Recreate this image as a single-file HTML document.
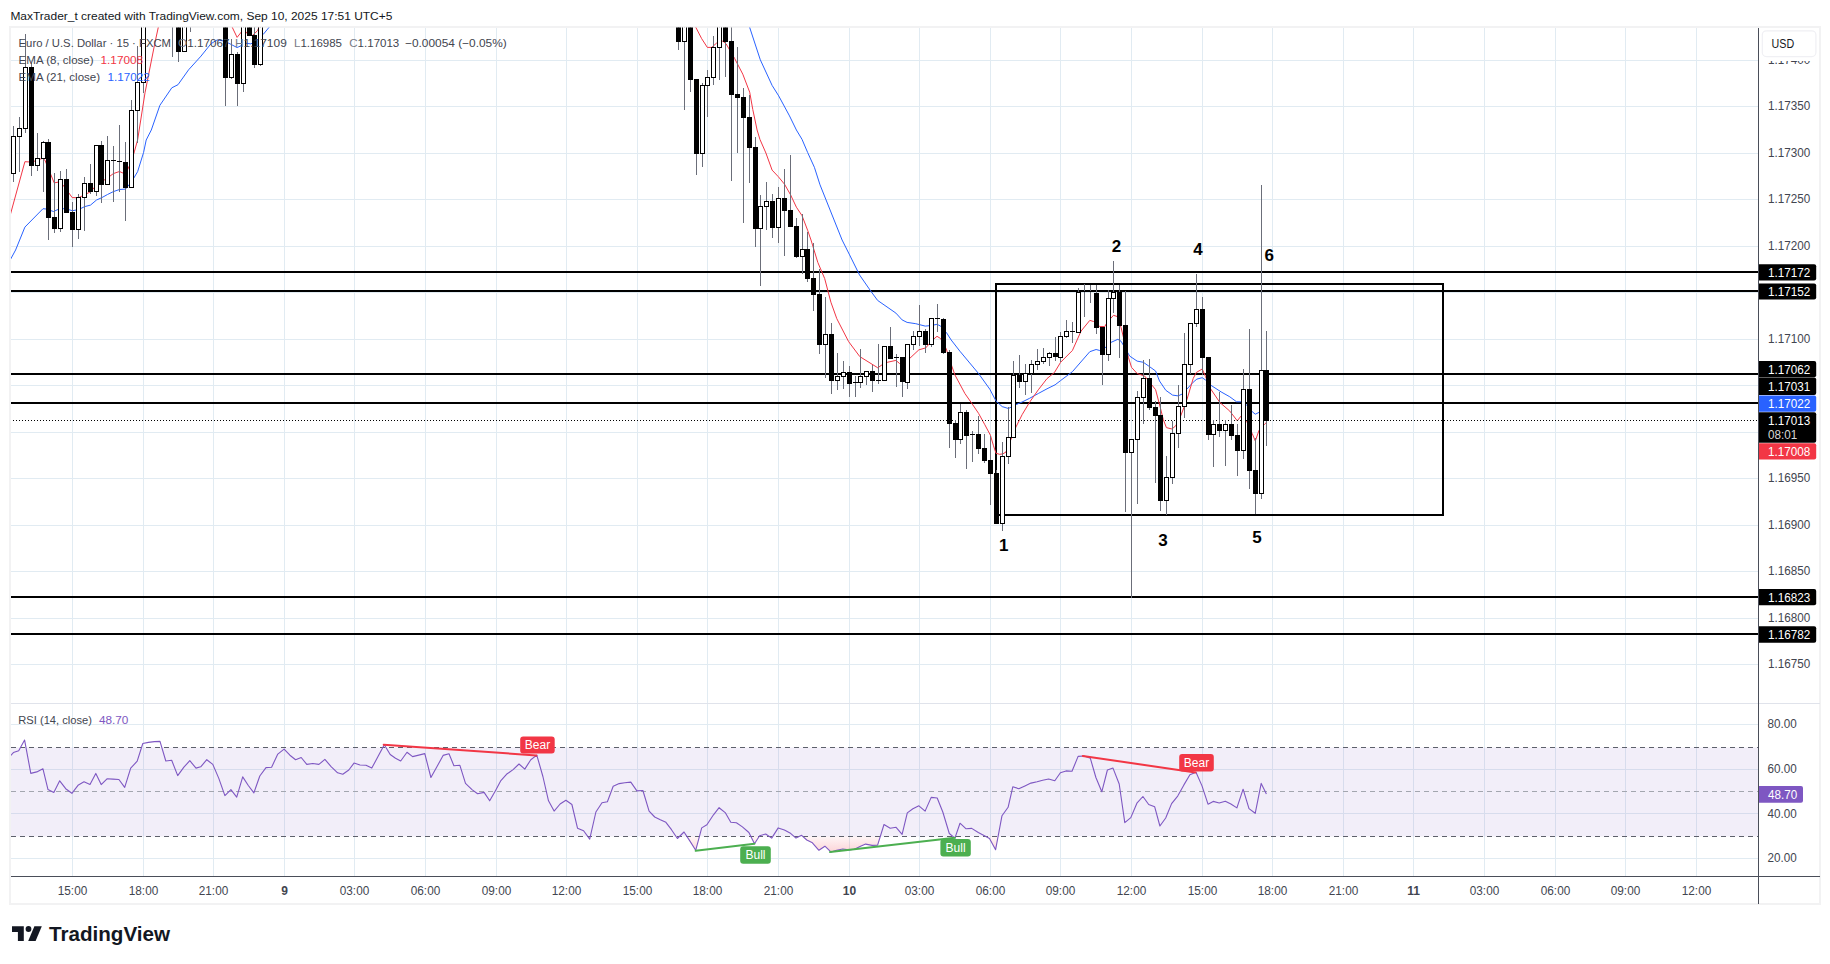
<!DOCTYPE html><html><head><meta charset="utf-8"><title>EURUSD chart</title>
<style>html,body{margin:0;padding:0;background:#fff}body{width:1830px;height:964px;overflow:hidden;position:relative;font-family:"Liberation Sans", sans-serif}svg{position:absolute;left:0;top:0;display:block}text{font-family:"Liberation Sans", sans-serif}</style></head><body>
<svg width="1830" height="964" viewBox="0 0 1830 964">
<defs><clipPath id="cm"><rect x="11" y="27.5" width="1747" height="675.5"/></clipPath><clipPath id="cr"><rect x="11" y="704" width="1747" height="172"/></clipPath><linearGradient id="og" x1="0" y1="836" x2="0" y2="858" gradientUnits="userSpaceOnUse"><stop offset="0" stop-color="#f23645" stop-opacity="0.04"/><stop offset="1" stop-color="#f23645" stop-opacity="0.28"/></linearGradient></defs>
<rect x="10" y="27" width="1810" height="877" fill="#fff" stroke="#f2f2f3" stroke-width="2"/>
<g fill="#e1ebf2" shape-rendering="crispEdges">
<rect x="72" y="28" width="1" height="675"/>
<rect x="72" y="704" width="1" height="172"/>
<rect x="143" y="28" width="1" height="675"/>
<rect x="143" y="704" width="1" height="172"/>
<rect x="213" y="28" width="1" height="675"/>
<rect x="213" y="704" width="1" height="172"/>
<rect x="284" y="28" width="1" height="675"/>
<rect x="284" y="704" width="1" height="172"/>
<rect x="354" y="28" width="1" height="675"/>
<rect x="354" y="704" width="1" height="172"/>
<rect x="425" y="28" width="1" height="675"/>
<rect x="425" y="704" width="1" height="172"/>
<rect x="496" y="28" width="1" height="675"/>
<rect x="496" y="704" width="1" height="172"/>
<rect x="566" y="28" width="1" height="675"/>
<rect x="566" y="704" width="1" height="172"/>
<rect x="637" y="28" width="1" height="675"/>
<rect x="637" y="704" width="1" height="172"/>
<rect x="707" y="28" width="1" height="675"/>
<rect x="707" y="704" width="1" height="172"/>
<rect x="778" y="28" width="1" height="675"/>
<rect x="778" y="704" width="1" height="172"/>
<rect x="849" y="28" width="1" height="675"/>
<rect x="849" y="704" width="1" height="172"/>
<rect x="919" y="28" width="1" height="675"/>
<rect x="919" y="704" width="1" height="172"/>
<rect x="990" y="28" width="1" height="675"/>
<rect x="990" y="704" width="1" height="172"/>
<rect x="1060" y="28" width="1" height="675"/>
<rect x="1060" y="704" width="1" height="172"/>
<rect x="1131" y="28" width="1" height="675"/>
<rect x="1131" y="704" width="1" height="172"/>
<rect x="1202" y="28" width="1" height="675"/>
<rect x="1202" y="704" width="1" height="172"/>
<rect x="1272" y="28" width="1" height="675"/>
<rect x="1272" y="704" width="1" height="172"/>
<rect x="1343" y="28" width="1" height="675"/>
<rect x="1343" y="704" width="1" height="172"/>
<rect x="1413" y="28" width="1" height="675"/>
<rect x="1413" y="704" width="1" height="172"/>
<rect x="1484" y="28" width="1" height="675"/>
<rect x="1484" y="704" width="1" height="172"/>
<rect x="1555" y="28" width="1" height="675"/>
<rect x="1555" y="704" width="1" height="172"/>
<rect x="1625" y="28" width="1" height="675"/>
<rect x="1625" y="704" width="1" height="172"/>
<rect x="1696" y="28" width="1" height="675"/>
<rect x="1696" y="704" width="1" height="172"/>
<rect x="11" y="60" width="1747" height="1"/>
<rect x="11" y="106" width="1747" height="1"/>
<rect x="11" y="153" width="1747" height="1"/>
<rect x="11" y="199" width="1747" height="1"/>
<rect x="11" y="246" width="1747" height="1"/>
<rect x="11" y="292" width="1747" height="1"/>
<rect x="11" y="339" width="1747" height="1"/>
<rect x="11" y="385" width="1747" height="1"/>
<rect x="11" y="432" width="1747" height="1"/>
<rect x="11" y="478" width="1747" height="1"/>
<rect x="11" y="525" width="1747" height="1"/>
<rect x="11" y="571" width="1747" height="1"/>
<rect x="11" y="618" width="1747" height="1"/>
<rect x="11" y="664" width="1747" height="1"/>
<rect x="11" y="724" width="1747" height="1"/>
<rect x="11" y="769" width="1747" height="1"/>
<rect x="11" y="813" width="1747" height="1"/>
<rect x="11" y="858" width="1747" height="1"/>
</g>
<rect x="11" y="703" width="1809" height="1" fill="#e0e3eb" shape-rendering="crispEdges"/>
<g clip-path="url(#cr)">
<rect x="11" y="747.5" width="1747" height="89" fill="#7e57c2" fill-opacity="0.1"/>
<path d="M587.7 836.3 L587.7 836.3 L589.7 839.1 L590.3 836.3 L590.3 836.3 Z" fill="url(#og)"/>
<path d="M675.9 836.3 L675.9 836.3 L677.4 838.5 L679.6 836.3 L679.6 836.3 Z" fill="url(#og)"/>
<path d="M686.8 836.3 L686.8 836.3 L689.8 840.9 L695.7 850.3 L699.5 836.3 L699.5 836.3 Z" fill="url(#og)"/>
<path d="M750.8 836.3 L750.8 836.3 L754.5 843.7 L759.2 836.3 L759.2 836.3 Z" fill="url(#og)"/>
<path d="M769.1 836.3 L769.1 836.3 L771.7 838.1 L772.8 836.3 L772.8 836.3 Z" fill="url(#og)"/>
<path d="M793.9 836.3 L793.9 836.3 L796.0 838.1 L799.6 836.3 L799.6 836.3 Z" fill="url(#og)"/>
<path d="M802.7 836.3 L802.7 836.3 L806.8 840.0 L812.4 842.8 L818.9 850.3 L824.9 846.2 L831.1 852.1 L836.7 850.3 L842.8 849.0 L848.8 849.9 L854.4 849.3 L860.0 846.5 L865.6 844.1 L872.1 845.4 L877.6 845.2 L880.4 836.3 L880.4 836.3 Z" fill="url(#og)"/>
<path d="M952.7 836.3 L952.7 836.3 L954.9 838.1 L955.5 836.3 L955.5 836.3 Z" fill="url(#og)"/>
<path d="M985.5 836.3 L985.5 836.3 L989.5 838.5 L995.6 849.7 L998.1 836.3 L998.1 836.3 Z" fill="url(#og)"/>
<g fill="none" stroke-width="1" shape-rendering="crispEdges"><path d="M11 747.5H1758" stroke="#5d606b" stroke-dasharray="5 4"/><path d="M11 836.5H1758" stroke="#5d606b" stroke-dasharray="5 4"/><path d="M11 791.5H1758" stroke="#a3a6af" stroke-dasharray="5 4"/></g>
<polyline fill="none" stroke="#7e57c2" stroke-width="1.1" stroke-linejoin="round" points="10.3,756.0 13.4,752.6 18.7,750.8 24.6,740.1 30.8,773.4 36.8,771.9 42.9,768.7 48.0,789.6 53.8,792.4 59.7,780.8 65.7,788.7 71.9,793.3 78.0,785.3 84.0,781.8 90.0,784.4 95.8,773.4 101.2,784.6 107.0,778.8 112.9,779.1 118.9,779.5 124.7,787.4 130.7,768.1 137.2,761.2 142.8,743.5 148.4,742.4 154.4,741.6 160.0,741.4 165.8,761.0 171.7,760.3 177.7,775.6 183.9,767.2 189.8,760.7 196.0,768.1 200.7,766.8 206.8,759.7 212.8,764.4 218.8,778.4 224.9,795.6 230.9,789.6 236.7,797.1 242.7,776.9 248.3,785.5 253.9,792.8 259.8,776.0 266.0,767.6 271.6,767.2 277.8,754.1 284.1,749.1 289.9,755.2 295.6,759.7 301.2,757.5 306.8,764.4 312.8,763.5 318.9,764.4 324.9,759.4 331.1,766.6 337.6,772.8 342.8,774.3 348.8,770.0 354.0,763.1 360.0,765.0 366.0,765.3 371.8,768.1 378.0,756.5 384.3,744.8 390.2,754.5 395.5,758.2 400.7,761.0 407.0,752.3 412.6,756.6 418.8,755.1 424.8,753.6 430.9,777.5 436.9,766.8 443.1,755.4 449.0,753.8 453.9,765.7 459.9,765.3 465.5,783.4 472.0,789.6 477.6,793.7 484.1,792.4 489.7,800.8 495.3,790.9 500.9,780.6 506.5,774.3 513.1,769.6 519.0,764.0 524.8,769.1 530.8,759.7 536.8,755.1 542.9,776.5 548.5,800.8 554.1,811.1 560.1,804.0 565.9,800.2 571.9,804.5 577.5,828.2 583.6,830.7 589.7,839.1 595.9,812.0 602.0,802.7 607.4,801.7 613.2,786.2 619.2,783.6 624.8,782.7 630.8,782.1 636.9,790.9 642.9,790.5 649.1,811.1 654.7,817.0 660.3,819.8 665.9,822.3 671.5,829.7 677.4,838.5 684.0,832.0 689.8,840.9 695.7,850.3 701.7,827.9 706.9,824.7 713.5,814.8 719.1,807.7 725.2,812.6 730.8,822.3 736.4,822.8 742.4,826.9 748.9,832.5 754.5,843.7 759.6,835.7 765.7,834.0 771.7,838.1 778.2,827.9 784.4,830.1 790.0,832.9 796.0,838.1 801.6,835.3 806.8,840.0 812.4,842.8 818.9,850.3 824.9,846.2 831.1,852.1 836.7,850.3 842.8,849.0 848.8,849.9 854.4,849.3 860.0,846.5 865.6,844.1 872.1,845.4 877.6,845.2 884.0,824.5 890.2,828.2 896.1,827.3 902.1,834.4 907.3,812.9 912.9,808.8 918.9,805.8 925.1,811.1 931.2,797.4 937.2,798.0 942.8,812.0 949.3,833.5 954.9,838.1 960.0,823.2 966.1,828.8 971.7,828.4 978.3,832.5 984.0,835.5 989.5,838.5 995.6,849.7 1002.0,815.7 1008.1,807.3 1012.8,786.8 1018.8,788.7 1024.9,785.9 1030.9,783.1 1037.1,781.8 1042.7,780.3 1048.6,779.0 1054.8,780.8 1060.4,772.8 1066.0,770.9 1072.0,771.3 1078.1,756.4 1084.1,756.0 1090.3,758.2 1095.9,777.5 1101.8,791.8 1107.4,770.0 1113.0,768.1 1119.2,784.0 1124.8,822.6 1130.8,817.6 1136.9,803.2 1142.9,796.5 1148.7,804.5 1154.7,806.8 1159.9,826.0 1165.7,818.0 1171.6,803.6 1177.7,796.1 1183.9,784.9 1189.9,774.7 1196.0,772.2 1202.0,785.9 1208.0,804.2 1213.2,801.4 1219.2,803.0 1225.3,801.2 1230.9,804.0 1236.9,807.9 1243.1,789.2 1249.0,808.6 1255.2,813.3 1261.2,783.4 1266.4,793.9"/>
<g stroke-width="2" stroke-linecap="round"><path d="M383.7 744.8L536.4 755.4" stroke="#f23645"/><path d="M1082.8 756L1195.5 772.4" stroke="#f23645"/><path d="M695.7 850.8L754.5 843.7" stroke="#4caf50"/><path d="M830.1 852.1L954.9 837.8" stroke="#4caf50"/></g>
<rect x="520.2" y="736.4" width="34.5" height="17.2" rx="3" fill="#f23645"/>
<text x="537.5" y="749.3" font-size="12" fill="#fff" text-anchor="middle">Bear</text>
<rect x="1179.2" y="754.1" width="34.6" height="17.4" rx="3" fill="#f23645"/>
<text x="1196.5" y="767.1" font-size="12" fill="#fff" text-anchor="middle">Bear</text>
<rect x="740.2" y="846.2" width="30.6" height="17.5" rx="3" fill="#4caf50"/>
<text x="755.5" y="859.2" font-size="12" fill="#fff" text-anchor="middle">Bull</text>
<rect x="940.4" y="839.1" width="30.4" height="17.3" rx="3" fill="#4caf50"/>
<text x="955.6" y="852.0" font-size="12" fill="#fff" text-anchor="middle">Bull</text>
</g>
<g font-size="11.2" fill="#42454f"><text x="18.3" y="723.7" textLength="73.7" lengthAdjust="spacingAndGlyphs">RSI (14, close)</text><text x="98.9" y="723.8" textLength="29.5" lengthAdjust="spacingAndGlyphs" fill="#7e57c2">48.70</text></g>
<g clip-path="url(#cm)">
<rect x="11" y="271" width="1747" height="2" fill="#000"/>
<rect x="11" y="290" width="1747" height="2" fill="#000"/>
<rect x="11" y="373" width="1747" height="2" fill="#000"/>
<rect x="11" y="402" width="1747" height="2" fill="#000"/>
<rect x="11" y="596" width="1747" height="2" fill="#000"/>
<rect x="11" y="633" width="1747" height="2" fill="#000"/>
<rect x="996" y="284" width="447" height="231" fill="none" stroke="#000" stroke-width="2"/>
<polyline fill="none" stroke="#2962ff" stroke-width="1" stroke-linejoin="round" points="8.0,264.0 15.6,250.0 24.9,227.1 43.0,208.7 46.0,209.0 53.5,211.5 60.4,208.4 66.6,209.0 72.3,210.7 78.4,209.7 84.7,206.6 90.5,205.1 96.5,200.0 101.5,197.8 107.5,194.5 113.4,191.6 119.5,189.5 125.5,189.1 131.6,181.7 137.6,171.7 143.6,152.4 146.2,140.0 151.3,130.0 159.9,105.3 171.8,87.8 178.0,84.7 188.6,69.8 201.0,56.1 211.0,43.7 217.2,39.9 224.7,41.2 230.9,44.3 237.1,47.6 241.5,45.5 244.6,43.0 250.8,43.9 256.5,40.5 263.3,34.3 269.5,26.8 274.0,20.0"/>
<polyline fill="none" stroke="#2962ff" stroke-width="1" stroke-linejoin="round" points="747.5,20.0 749.7,27.5 760.3,59.8 772.1,85.4 778.7,95.9 789.5,115.9 796.4,130.0 802.0,139.3 807.6,152.4 814.4,167.3 820.0,184.8 842.1,240.0 849.6,254.9 859.5,274.9 870.7,291.0 877.6,300.4 895.9,313.1 902.1,319.9 907.1,322.4 915.8,323.7 925.2,326.1 931.4,325.5 937.0,324.3 940.7,326.1 946.3,332.4 951.2,340.0 959.9,351.2 978.6,373.6 989.8,389.2 996.0,401.0 1002.2,406.6 1008.4,408.5 1015.9,404.7 1022.1,402.0 1029.6,398.3 1038.3,393.5 1047.0,388.8 1055.1,384.8 1060.7,380.5 1072.4,371.7 1089.8,351.7 1096.1,349.5 1099.8,350.5 1104.8,348.0 1111.0,342.4 1117.8,339.3 1121.0,341.2 1124.7,347.4 1129.7,356.1 1137.1,361.1 1143.4,362.3 1149.6,366.7 1155.6,371.0 1159.5,381.0 1165.8,390.3 1172.6,395.1 1178.2,395.9 1182.0,394.1 1186.9,389.1 1193.2,382.2 1196.9,379.1 1202.2,377.7 1205.5,380.0 1211.1,385.4 1221.1,391.9 1229.8,396.8 1236.6,401.8 1241.0,401.8 1246.0,404.3 1252.2,411.7 1255.3,414.2 1259.0,412.4 1266.5,411.5"/>
<polyline fill="none" stroke="#f23645" stroke-width="1" stroke-linejoin="round" points="10.0,215.9 24.9,161.7 31.8,162.1 42.3,158.4 44.8,159.9 54.2,182.9 60.4,181.7 66.6,189.8 72.2,197.6 78.4,197.8 84.7,194.7 90.9,191.6 96.5,184.8 101.5,181.7 107.7,177.9 113.3,173.6 119.5,171.5 125.5,174.2 131.6,161.1 134.5,151.2 137.6,140.0 145.0,92.8 155.0,42.4 159.9,20.0"/>
<polyline fill="none" stroke="#f23645" stroke-width="1" stroke-linejoin="round" points="230.5,15.0 232.1,27.0 237.1,37.4 241.5,31.8 244.0,29.5 248.9,35.6 252.5,35.4 257.6,30.6 262.0,20.0"/>
<polyline fill="none" stroke="#f23645" stroke-width="1" stroke-linejoin="round" points="694.0,20.0 695.9,27.5 701.7,38.7 707.3,47.4 711.7,47.4 716.7,43.0 719.7,41.5 722.9,41.2 726.0,43.7 734.7,58.6 742.8,74.2 749.7,92.2 752.8,109.6 757.1,130.0 759.9,139.3 765.9,153.0 772.1,170.1 778.3,176.7 784.5,184.2 790.5,194.7 796.4,207.2 802.0,215.6 807.6,230.2 811.0,240.0 817.8,262.4 824.7,278.6 830.9,302.2 836.8,318.7 848.6,341.6 859.8,356.6 877.8,367.8 882.2,364.7 887.8,362.2 895.9,360.4 899.6,363.5 903.0,362.5 909.6,358.5 918.9,349.8 925.8,347.9 931.4,341.1 937.0,336.3 940.7,338.6 946.2,348.7 951.8,366.1 954.9,374.9 964.9,393.5 972.3,404.1 978.6,413.4 984.8,424.7 990.4,435.2 993.5,445.8 996.0,453.3 999.7,454.3 1002.8,453.9 1006.0,452.0 1010.9,439.6 1015.9,427.1 1022.1,414.7 1029.6,402.2 1038.3,389.8 1047.0,378.6 1054.5,372.4 1060.6,362.3 1072.4,350.5 1081.1,331.0 1089.8,320.4 1093.6,321.5 1099.8,326.5 1104.8,326.5 1107.3,322.1 1113.5,315.3 1117.2,316.5 1121.0,327.3 1124.7,342.4 1128.4,357.3 1131.5,367.3 1137.1,373.5 1144.6,376.0 1149.6,382.2 1155.6,389.7 1160.2,407.1 1163.3,419.6 1166.4,427.6 1172.0,429.0 1175.8,425.7 1180.7,415.9 1186.9,399.7 1193.2,378.5 1196.3,372.5 1202.2,369.0 1205.5,376.5 1210.5,388.7 1219.8,402.4 1229.8,411.1 1237.3,420.8 1241.0,416.1 1243.5,417.0 1246.6,421.1 1252.2,433.5 1255.3,441.0 1259.0,430.4 1264.6,424.2 1266.5,422.3"/>
<path d="M10 420.5H1758" stroke="#000" stroke-width="1" stroke-dasharray="1 2" fill="none"/>
<g fill="#6b6e79"><rect x="13" y="126" width="1" height="56"/><rect x="19" y="117" width="1" height="55"/><rect x="25" y="34" width="1" height="99"/><rect x="31" y="63" width="1" height="113"/><rect x="37" y="133" width="1" height="38"/><rect x="43" y="141" width="1" height="51"/><rect x="48" y="139" width="1" height="101"/><rect x="54" y="173" width="1" height="60"/><rect x="60" y="171" width="1" height="61"/><rect x="66" y="169" width="1" height="44"/><rect x="72" y="202" width="1" height="45"/><rect x="78" y="194" width="1" height="45"/><rect x="84" y="177" width="1" height="54"/><rect x="90" y="164" width="1" height="30"/><rect x="96" y="145" width="1" height="51"/><rect x="101" y="141" width="1" height="62"/><rect x="107" y="136" width="1" height="48"/><rect x="113" y="146" width="1" height="56"/><rect x="119" y="125" width="1" height="67"/><rect x="125" y="142" width="1" height="79"/><rect x="131" y="100" width="1" height="88"/><rect x="137" y="46" width="1" height="97"/><rect x="143" y="10" width="1" height="83"/><rect x="172" y="10" width="1" height="47"/><rect x="178" y="10" width="1" height="52"/><rect x="184" y="10" width="1" height="41"/><rect x="190" y="10" width="1" height="22"/><rect x="225" y="10" width="1" height="96"/><rect x="231" y="39" width="1" height="40"/><rect x="237" y="52" width="1" height="54"/><rect x="243" y="10" width="1" height="82"/><rect x="249" y="10" width="1" height="26"/><rect x="254" y="10" width="1" height="58"/><rect x="260" y="10" width="1" height="56"/><rect x="678" y="10" width="1" height="40"/><rect x="684" y="10" width="1" height="100"/><rect x="690" y="10" width="1" height="82"/><rect x="696" y="79" width="1" height="96"/><rect x="702" y="83" width="1" height="84"/><rect x="707" y="70" width="1" height="47"/><rect x="713" y="36" width="1" height="49"/><rect x="719" y="10" width="1" height="70"/><rect x="725" y="10" width="1" height="67"/><rect x="731" y="10" width="1" height="171"/><rect x="737" y="47" width="1" height="106"/><rect x="743" y="88" width="1" height="135"/><rect x="749" y="95" width="1" height="88"/><rect x="755" y="137" width="1" height="110"/><rect x="760" y="195" width="1" height="91"/><rect x="766" y="182" width="1" height="48"/><rect x="772" y="194" width="1" height="44"/><rect x="778" y="187" width="1" height="56"/><rect x="784" y="169" width="1" height="87"/><rect x="790" y="155" width="1" height="72"/><rect x="796" y="218" width="1" height="40"/><rect x="802" y="214" width="1" height="60"/><rect x="807" y="232" width="1" height="50"/><rect x="813" y="243" width="1" height="68"/><rect x="819" y="269" width="1" height="85"/><rect x="825" y="297" width="1" height="81"/><rect x="831" y="323" width="1" height="71"/><rect x="837" y="353" width="1" height="37"/><rect x="843" y="361" width="1" height="28"/><rect x="849" y="366" width="1" height="31"/><rect x="855" y="376" width="1" height="21"/><rect x="860" y="349" width="1" height="39"/><rect x="866" y="372" width="1" height="13"/><rect x="872" y="365" width="1" height="27"/><rect x="878" y="344" width="1" height="40"/><rect x="884" y="347" width="1" height="33"/><rect x="890" y="327" width="1" height="32"/><rect x="896" y="354" width="1" height="33"/><rect x="902" y="357" width="1" height="40"/><rect x="907" y="344" width="1" height="45"/><rect x="913" y="331" width="1" height="19"/><rect x="919" y="305" width="1" height="41"/><rect x="925" y="329" width="1" height="24"/><rect x="931" y="318" width="1" height="29"/><rect x="937" y="304" width="1" height="28"/><rect x="943" y="318" width="1" height="36"/><rect x="949" y="350" width="1" height="98"/><rect x="955" y="420" width="1" height="38"/><rect x="960" y="404" width="1" height="40"/><rect x="966" y="410" width="1" height="59"/><rect x="972" y="431" width="1" height="31"/><rect x="978" y="416" width="1" height="38"/><rect x="984" y="434" width="1" height="29"/><rect x="990" y="436" width="1" height="69"/><rect x="996" y="470" width="1" height="54"/><rect x="1002" y="442" width="1" height="89"/><rect x="1008" y="407" width="1" height="57"/><rect x="1013" y="361" width="1" height="77"/><rect x="1019" y="355" width="1" height="33"/><rect x="1025" y="364" width="1" height="31"/><rect x="1031" y="360" width="1" height="33"/><rect x="1037" y="349" width="1" height="21"/><rect x="1043" y="348" width="1" height="16"/><rect x="1049" y="352" width="1" height="14"/><rect x="1055" y="337" width="1" height="24"/><rect x="1060" y="332" width="1" height="30"/><rect x="1066" y="320" width="1" height="18"/><rect x="1072" y="322" width="1" height="21"/><rect x="1078" y="288" width="1" height="44"/><rect x="1084" y="284" width="1" height="33"/><rect x="1090" y="285" width="1" height="18"/><rect x="1096" y="285" width="1" height="49"/><rect x="1102" y="327" width="1" height="58"/><rect x="1108" y="290" width="1" height="71"/><rect x="1113" y="261" width="1" height="52"/><rect x="1119" y="285" width="1" height="73"/><rect x="1125" y="291" width="1" height="221"/><rect x="1131" y="439" width="1" height="159"/><rect x="1137" y="391" width="1" height="113"/><rect x="1143" y="360" width="1" height="64"/><rect x="1149" y="359" width="1" height="51"/><rect x="1155" y="401" width="1" height="82"/><rect x="1160" y="397" width="1" height="114"/><rect x="1166" y="456" width="1" height="59"/><rect x="1172" y="421" width="1" height="63"/><rect x="1178" y="385" width="1" height="63"/><rect x="1184" y="333" width="1" height="85"/><rect x="1190" y="323" width="1" height="51"/><rect x="1196" y="274" width="1" height="53"/><rect x="1202" y="297" width="1" height="78"/><rect x="1208" y="357" width="1" height="83"/><rect x="1213" y="420" width="1" height="47"/><rect x="1219" y="392" width="1" height="45"/><rect x="1225" y="420" width="1" height="46"/><rect x="1231" y="405" width="1" height="35"/><rect x="1237" y="424" width="1" height="52"/><rect x="1243" y="369" width="1" height="90"/><rect x="1249" y="329" width="1" height="160"/><rect x="1255" y="438" width="1" height="76"/><rect x="1261" y="185" width="1" height="314"/><rect x="1266" y="331" width="1" height="115"/></g>
<g fill="#fff" stroke="#000" stroke-width="1"><rect x="11.5" y="136.5" width="4" height="37"/><rect x="17.5" y="128.5" width="4" height="8"/><rect x="23.5" y="67.5" width="4" height="61"/><rect x="35.5" y="158.5" width="4" height="7"/><rect x="41.5" y="142.5" width="4" height="16"/><rect x="58.5" y="179.5" width="4" height="49"/><rect x="76.5" y="197.5" width="4" height="32"/><rect x="82.5" y="183.5" width="4" height="14"/><rect x="94.5" y="145.5" width="4" height="46"/><rect x="105.5" y="160.5" width="4" height="24"/><rect x="129.5" y="110.5" width="4" height="77"/><rect x="135.5" y="82.5" width="4" height="28"/><rect x="141.5" y="10.5" width="4" height="72"/><rect x="182.5" y="10.5" width="4" height="41"/><rect x="229.5" y="54.5" width="4" height="23"/><rect x="241.5" y="10.5" width="4" height="73"/><rect x="258.5" y="10.5" width="4" height="54"/><rect x="682.5" y="10.5" width="4" height="31"/><rect x="700.5" y="85.5" width="4" height="68"/><rect x="705.5" y="77.5" width="4" height="8"/><rect x="711.5" y="47.5" width="4" height="30"/><rect x="717.5" y="10.5" width="4" height="37"/><rect x="758.5" y="206.5" width="4" height="22"/><rect x="764.5" y="201.5" width="4" height="5"/><rect x="776.5" y="198.5" width="4" height="29"/><rect x="800.5" y="249.5" width="4" height="7"/><rect x="823.5" y="334.5" width="4" height="10"/><rect x="835.5" y="376.5" width="4" height="4"/><rect x="841.5" y="372.5" width="4" height="4"/><rect x="858.5" y="376.5" width="4" height="6"/><rect x="864.5" y="371.5" width="4" height="5"/><rect x="882.5" y="346.5" width="4" height="34"/><rect x="905.5" y="344.5" width="4" height="38"/><rect x="911.5" y="336.5" width="4" height="8"/><rect x="917.5" y="331.5" width="4" height="5"/><rect x="929.5" y="318.5" width="4" height="26"/><rect x="958.5" y="412.5" width="4" height="27"/><rect x="1000.5" y="456.5" width="4" height="67"/><rect x="1006.5" y="437.5" width="4" height="19"/><rect x="1011.5" y="375.5" width="4" height="62"/><rect x="1023.5" y="373.5" width="4" height="8"/><rect x="1029.5" y="364.5" width="4" height="9"/><rect x="1035.5" y="361.5" width="4" height="3"/><rect x="1041.5" y="357.5" width="4" height="4"/><rect x="1047.5" y="353.5" width="4" height="4"/><rect x="1058.5" y="336.5" width="4" height="21"/><rect x="1064.5" y="331.5" width="4" height="5"/><rect x="1076.5" y="292.5" width="4" height="40"/><rect x="1106.5" y="298.5" width="4" height="56"/><rect x="1111.5" y="292.5" width="4" height="6"/><rect x="1129.5" y="439.5" width="4" height="13"/><rect x="1135.5" y="397.5" width="4" height="42"/><rect x="1141.5" y="378.5" width="4" height="19"/><rect x="1164.5" y="477.5" width="4" height="23"/><rect x="1170.5" y="433.5" width="4" height="44"/><rect x="1176.5" y="406.5" width="4" height="27"/><rect x="1182.5" y="364.5" width="4" height="42"/><rect x="1188.5" y="323.5" width="4" height="41"/><rect x="1194.5" y="309.5" width="4" height="14"/><rect x="1211.5" y="424.5" width="4" height="10"/><rect x="1223.5" y="424.5" width="4" height="6"/><rect x="1241.5" y="389.5" width="4" height="61"/><rect x="1259.5" y="370.5" width="4" height="123"/></g>
<g fill="#000"><rect x="29" y="67" width="5" height="99"/><rect x="46" y="142" width="5" height="76"/><rect x="52" y="217" width="5" height="12"/><rect x="64" y="179" width="5" height="34"/><rect x="70" y="212" width="5" height="18"/><rect x="88" y="183" width="5" height="9"/><rect x="99" y="145" width="5" height="40"/><rect x="111" y="160" width="5" height="1"/><rect x="117" y="161" width="5" height="1"/><rect x="123" y="162" width="5" height="26"/><rect x="176" y="10" width="5" height="42"/><rect x="223" y="10" width="5" height="68"/><rect x="235" y="54" width="5" height="30"/><rect x="247" y="10" width="5" height="26"/><rect x="252" y="35" width="5" height="30"/><rect x="676" y="10" width="5" height="32"/><rect x="688" y="10" width="5" height="70"/><rect x="694" y="79" width="5" height="75"/><rect x="723" y="10" width="5" height="32"/><rect x="729" y="41" width="5" height="54"/><rect x="735" y="94" width="5" height="4"/><rect x="741" y="97" width="5" height="21"/><rect x="747" y="117" width="5" height="31"/><rect x="753" y="147" width="5" height="82"/><rect x="770" y="201" width="5" height="27"/><rect x="782" y="198" width="5" height="13"/><rect x="788" y="210" width="5" height="17"/><rect x="794" y="226" width="5" height="31"/><rect x="805" y="249" width="5" height="30"/><rect x="811" y="278" width="5" height="17"/><rect x="817" y="294" width="5" height="51"/><rect x="829" y="334" width="5" height="47"/><rect x="847" y="372" width="5" height="12"/><rect x="853" y="382" width="5" height="1"/><rect x="870" y="371" width="5" height="10"/><rect x="876" y="380" width="5" height="1"/><rect x="888" y="346" width="5" height="13"/><rect x="894" y="357" width="5" height="1"/><rect x="900" y="357" width="5" height="25"/><rect x="923" y="331" width="5" height="14"/><rect x="935" y="318" width="5" height="1"/><rect x="941" y="319" width="5" height="34"/><rect x="947" y="352" width="5" height="72"/><rect x="953" y="423" width="5" height="17"/><rect x="964" y="412" width="5" height="24"/><rect x="970" y="434" width="5" height="1"/><rect x="976" y="434" width="5" height="15"/><rect x="982" y="448" width="5" height="13"/><rect x="988" y="460" width="5" height="14"/><rect x="994" y="473" width="5" height="51"/><rect x="1017" y="375" width="5" height="7"/><rect x="1053" y="353" width="5" height="4"/><rect x="1070" y="331" width="5" height="1"/><rect x="1082" y="291" width="5" height="1"/><rect x="1088" y="291" width="5" height="1"/><rect x="1094" y="293" width="5" height="35"/><rect x="1100" y="327" width="5" height="28"/><rect x="1117" y="292" width="5" height="34"/><rect x="1123" y="325" width="5" height="128"/><rect x="1147" y="378" width="5" height="30"/><rect x="1153" y="407" width="5" height="9"/><rect x="1158" y="415" width="5" height="86"/><rect x="1200" y="309" width="5" height="49"/><rect x="1206" y="357" width="5" height="78"/><rect x="1217" y="424" width="5" height="7"/><rect x="1229" y="424" width="5" height="12"/><rect x="1235" y="435" width="5" height="16"/><rect x="1247" y="389" width="5" height="82"/><rect x="1253" y="470" width="5" height="24"/><rect x="1264" y="370" width="5" height="51"/></g>
<text x="1003.7" y="550.8" font-size="17" font-weight="bold" text-anchor="middle" fill="#000">1</text>
<text x="1116.4" y="252.1" font-size="17" font-weight="bold" text-anchor="middle" fill="#000">2</text>
<text x="1163.0" y="546.1" font-size="17" font-weight="bold" text-anchor="middle" fill="#000">3</text>
<text x="1198.0" y="254.9" font-size="17" font-weight="bold" text-anchor="middle" fill="#000">4</text>
<text x="1257.0" y="543.1" font-size="17" font-weight="bold" text-anchor="middle" fill="#000">5</text>
<text x="1269.3" y="261.4" font-size="17" font-weight="bold" text-anchor="middle" fill="#000">6</text>
</g>
<g font-size="11.2" fill="#42454f">
<text x="18.6" y="46.9" textLength="152.4" lengthAdjust="spacingAndGlyphs">Euro / U.S. Dollar · 15 · FXCM</text>
<text x="178.1" y="47" textLength="51.4" lengthAdjust="spacingAndGlyphs"><tspan fill="#787b86">O</tspan>1.17067</text><text x="235" y="47" textLength="51.8" lengthAdjust="spacingAndGlyphs"><tspan fill="#787b86">H</tspan>1.17109</text><text x="294" y="47" textLength="48" lengthAdjust="spacingAndGlyphs"><tspan fill="#787b86">L</tspan>1.16985</text><text x="349.3" y="47" textLength="50" lengthAdjust="spacingAndGlyphs"><tspan fill="#787b86">C</tspan>1.17013</text>
<text x="405.0" y="47.0" textLength="101.7" lengthAdjust="spacingAndGlyphs">−0.00054 (−0.05%)</text>
<text x="18.6" y="64.0" textLength="75.0" lengthAdjust="spacingAndGlyphs">EMA (8, close)</text><text x="100.5" y="64.0" textLength="42.7" lengthAdjust="spacingAndGlyphs" fill="#f23645">1.17008</text>
<text x="18.6" y="81.0" textLength="81.5" lengthAdjust="spacingAndGlyphs">EMA (21, close)</text><text x="107.5" y="81.0" textLength="42.2" lengthAdjust="spacingAndGlyphs" fill="#2962ff">1.17022</text>
</g>
<rect x="1758" y="27.5" width="1" height="876" fill="#4a4e59" shape-rendering="crispEdges"/>
<rect x="11" y="876" width="1809" height="1" fill="#4a4e59" shape-rendering="crispEdges"/>
<g font-size="12" fill="#42454f">
<text x="1768.0" y="64.0" textLength="42.2" lengthAdjust="spacingAndGlyphs">1.17400</text>
<text x="1768.0" y="110.0" textLength="42.2" lengthAdjust="spacingAndGlyphs">1.17350</text>
<text x="1768.0" y="157.0" textLength="42.2" lengthAdjust="spacingAndGlyphs">1.17300</text>
<text x="1768.0" y="203.0" textLength="42.2" lengthAdjust="spacingAndGlyphs">1.17250</text>
<text x="1768.0" y="250.0" textLength="42.2" lengthAdjust="spacingAndGlyphs">1.17200</text>
<text x="1768.0" y="343.0" textLength="42.2" lengthAdjust="spacingAndGlyphs">1.17100</text>
<text x="1768.0" y="482.0" textLength="42.2" lengthAdjust="spacingAndGlyphs">1.16950</text>
<text x="1768.0" y="529.0" textLength="42.2" lengthAdjust="spacingAndGlyphs">1.16900</text>
<text x="1768.0" y="575.0" textLength="42.2" lengthAdjust="spacingAndGlyphs">1.16850</text>
<text x="1768.0" y="622.0" textLength="42.2" lengthAdjust="spacingAndGlyphs">1.16800</text>
<text x="1768.0" y="668.0" textLength="42.2" lengthAdjust="spacingAndGlyphs">1.16750</text>
<text x="1767.5" y="728.0" textLength="29.2" lengthAdjust="spacingAndGlyphs">80.00</text>
<text x="1767.5" y="773.0" textLength="29.2" lengthAdjust="spacingAndGlyphs">60.00</text>
<text x="1767.5" y="817.7" textLength="29.2" lengthAdjust="spacingAndGlyphs">40.00</text>
<text x="1767.5" y="862.0" textLength="29.2" lengthAdjust="spacingAndGlyphs">20.00</text>
</g>
<rect x="1759" y="28" width="60" height="33" fill="#fff"/>
<rect x="1762.3" y="30.8" width="53.6" height="25.8" rx="4" fill="#fff" stroke="#f0f0f4" stroke-width="1.2"/>
<text x="1771.6" y="48.3" textLength="22.6" lengthAdjust="spacingAndGlyphs" font-size="12" fill="#131722">USD</text>
<path d="M1759 264.3H1814.2a2 2 0 0 1 2 2V278.5a2 2 0 0 1 -2 2H1759Z" fill="#000"/>
<text x="1768.0" y="276.9" textLength="42.3" lengthAdjust="spacingAndGlyphs" font-size="12" fill="#fff">1.17172</text>
<path d="M1759 283.4H1814.2a2 2 0 0 1 2 2V297.4a2 2 0 0 1 -2 2H1759Z" fill="#000"/>
<text x="1768.0" y="295.9" textLength="42.3" lengthAdjust="spacingAndGlyphs" font-size="12" fill="#fff">1.17152</text>
<path d="M1759 360.9H1814.2a2 2 0 0 1 2 2V375.2a2 2 0 0 1 -2 2H1759Z" fill="#000"/>
<text x="1768.0" y="373.5" textLength="42.3" lengthAdjust="spacingAndGlyphs" font-size="12" fill="#fff">1.17062</text>
<path d="M1759 377.6H1814.2a2 2 0 0 1 2 2V393.0a2 2 0 0 1 -2 2H1759Z" fill="#000"/>
<text x="1768.0" y="390.8" textLength="42.3" lengthAdjust="spacingAndGlyphs" font-size="12" fill="#fff">1.17031</text>
<path d="M1759 395.5H1814.2a2 2 0 0 1 2 2V409.7a2 2 0 0 1 -2 2H1759Z" fill="#2962ff"/>
<text x="1768.0" y="408.1" textLength="42.3" lengthAdjust="spacingAndGlyphs" font-size="12" fill="#fff">1.17022</text>
<path d="M1759 412.2H1814.2a2 2 0 0 1 2 2V440.7a2 2 0 0 1 -2 2H1759Z" fill="#000"/>
<text x="1768.0" y="425.0" textLength="42.3" lengthAdjust="spacingAndGlyphs" font-size="12" fill="#fff">1.17013</text>
<text x="1768.0" y="438.7" textLength="29.2" lengthAdjust="spacingAndGlyphs" font-size="12" fill="#fff" fill-opacity="0.85">08:01</text>
<path d="M1759 443.2H1814.2a2 2 0 0 1 2 2V457.4a2 2 0 0 1 -2 2H1759Z" fill="#f23645"/>
<text x="1768.0" y="455.8" textLength="42.3" lengthAdjust="spacingAndGlyphs" font-size="12" fill="#fff">1.17008</text>
<path d="M1759 589.1H1814.2a2 2 0 0 1 2 2V603.3a2 2 0 0 1 -2 2H1759Z" fill="#000"/>
<text x="1768.0" y="601.7" textLength="42.3" lengthAdjust="spacingAndGlyphs" font-size="12" fill="#fff">1.16823</text>
<path d="M1759 626.3H1814.2a2 2 0 0 1 2 2V640.8a2 2 0 0 1 -2 2H1759Z" fill="#000"/>
<text x="1768.0" y="639.0" textLength="42.3" lengthAdjust="spacingAndGlyphs" font-size="12" fill="#fff">1.16782</text>
<path d="M1759 786.1H1801.0a2 2 0 0 1 2 2V800.8a2 2 0 0 1 -2 2H1759Z" fill="#7e57c2"/>
<text x="1768.0" y="799.0" textLength="29.2" lengthAdjust="spacingAndGlyphs" font-size="12" fill="#fff">48.70</text>
<g font-size="12" fill="#42454f" text-anchor="middle">
<text x="72.5" y="895.3" textLength="29.5" lengthAdjust="spacingAndGlyphs">15:00</text>
<text x="143.5" y="895.3" textLength="29.5" lengthAdjust="spacingAndGlyphs">18:00</text>
<text x="213.5" y="895.3" textLength="29.5" lengthAdjust="spacingAndGlyphs">21:00</text>
<text x="284.5" y="895.3" font-weight="bold">9</text>
<text x="354.5" y="895.3" textLength="29.5" lengthAdjust="spacingAndGlyphs">03:00</text>
<text x="425.5" y="895.3" textLength="29.5" lengthAdjust="spacingAndGlyphs">06:00</text>
<text x="496.5" y="895.3" textLength="29.5" lengthAdjust="spacingAndGlyphs">09:00</text>
<text x="566.5" y="895.3" textLength="29.5" lengthAdjust="spacingAndGlyphs">12:00</text>
<text x="637.5" y="895.3" textLength="29.5" lengthAdjust="spacingAndGlyphs">15:00</text>
<text x="707.5" y="895.3" textLength="29.5" lengthAdjust="spacingAndGlyphs">18:00</text>
<text x="778.5" y="895.3" textLength="29.5" lengthAdjust="spacingAndGlyphs">21:00</text>
<text x="849.5" y="895.3" font-weight="bold">10</text>
<text x="919.5" y="895.3" textLength="29.5" lengthAdjust="spacingAndGlyphs">03:00</text>
<text x="990.5" y="895.3" textLength="29.5" lengthAdjust="spacingAndGlyphs">06:00</text>
<text x="1060.5" y="895.3" textLength="29.5" lengthAdjust="spacingAndGlyphs">09:00</text>
<text x="1131.5" y="895.3" textLength="29.5" lengthAdjust="spacingAndGlyphs">12:00</text>
<text x="1202.5" y="895.3" textLength="29.5" lengthAdjust="spacingAndGlyphs">15:00</text>
<text x="1272.5" y="895.3" textLength="29.5" lengthAdjust="spacingAndGlyphs">18:00</text>
<text x="1343.5" y="895.3" textLength="29.5" lengthAdjust="spacingAndGlyphs">21:00</text>
<text x="1413.5" y="895.3" font-weight="bold">11</text>
<text x="1484.5" y="895.3" textLength="29.5" lengthAdjust="spacingAndGlyphs">03:00</text>
<text x="1555.5" y="895.3" textLength="29.5" lengthAdjust="spacingAndGlyphs">06:00</text>
<text x="1625.5" y="895.3" textLength="29.5" lengthAdjust="spacingAndGlyphs">09:00</text>
<text x="1696.5" y="895.3" textLength="29.5" lengthAdjust="spacingAndGlyphs">12:00</text>
</g>
<text x="10.4" y="19.7" font-size="11.7" fill="#131722" textLength="382" lengthAdjust="spacingAndGlyphs">MaxTrader_t created with TradingView.com, Sep 10, 2025 17:51 UTC+5</text>
<g fill="#131722"><path d="M12 926.2H23.8V941H17.9V932.1H12Z"/><circle cx="28.5" cy="929" r="2.9"/><path d="M34.4 926.2H41.8L35.6 941H28.2Z"/></g>
<text x="49" y="941" font-size="20.6" font-weight="bold" fill="#131722" textLength="121" lengthAdjust="spacingAndGlyphs">TradingView</text>
</svg></body></html>
